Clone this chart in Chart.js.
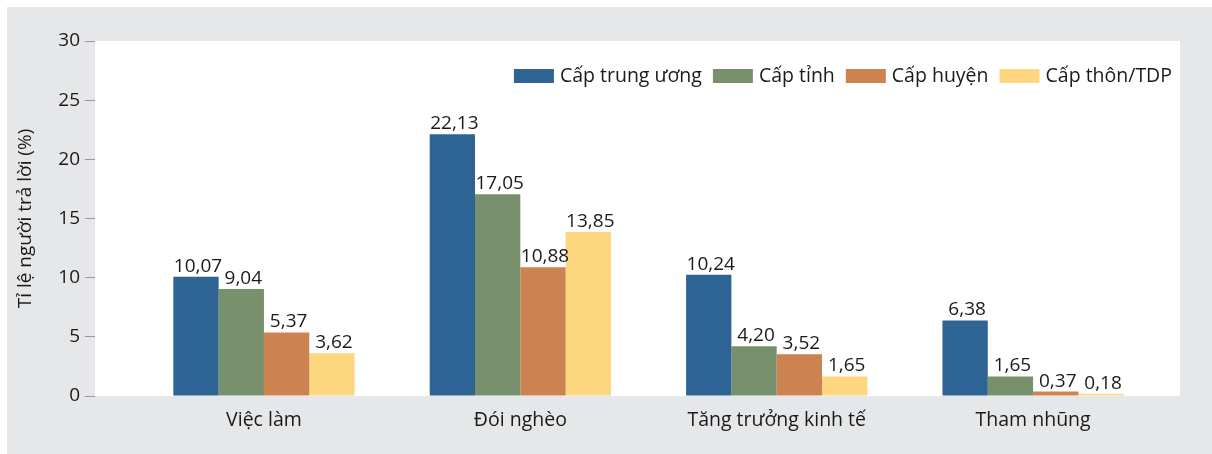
<!DOCTYPE html>
<html>
<head>
<meta charset="utf-8">
<script src="https://cdn.jsdelivr.net/npm/chart.js@4"></script>
<style>
  html, body { margin: 0; padding: 0; background: #fff; }
  #wrap { width: 1212px; height: 454px; }
</style>
</head>
<body>
<div id="wrap"><canvas id="myChart" width="1212" height="454"></canvas></div>
<script>
const categories = ['Việc làm', 'Đói nghèo', 'Tăng trưởng kinh tế', 'Tham nhũng'];
const yTicks = [0, 5, 10, 15, 20, 25, 30];

const capTrungUong = [10.07, 22.13, 10.24, 6.38];
const capTinh = [9.04, 17.05, 4.20, 1.65];
const capHuyen = [5.37, 10.88, 3.52, 0.37];
const capThon = [3.62, 13.85, 1.65, 0.18];

const FONT = "'Open Sans', sans-serif";
const TEXT = '#1a1a1a';

const toPoints = (arr) => arr.map((v, i) => ({x: i, y: v}));

const ctx = document.getElementById('myChart').getContext('2d');

// grey frame + white plot area
const background = {
  id: 'background',
  beforeDraw(chart) {
    const {ctx, chartArea} = chart;
    ctx.save();
    ctx.fillStyle = '#e6e7e9';
    ctx.fillRect(7, 7, chart.width - 7, chart.height - 7);
    ctx.fillStyle = '#ffffff';
    ctx.fillRect(chartArea.left, chartArea.top, chartArea.right - chartArea.left, chartArea.bottom - chartArea.top);
    ctx.restore();
  }
};

// value labels above bars, decimal comma
const valueLabels = {
  id: 'valueLabels',
  afterDatasetsDraw(chart) {
    const {ctx} = chart;
    ctx.save();
    ctx.font = '19px ' + FONT;
    ctx.fillStyle = TEXT;
    ctx.textAlign = 'center';
    ctx.textBaseline = 'bottom';
    chart.data.datasets.forEach((ds, di) => {
      chart.getDatasetMeta(di).data.forEach((bar, i) => {
        const txt = ds.data[i].y.toFixed(2).replace('.', ',');
        ctx.fillText(txt, bar.x + 2, bar.y - 1);
      });
    });
    ctx.restore();
  }
};

// legend inside the plot, top right, one row
const insideLegend = {
  id: 'insideLegend',
  afterDraw(chart) {
    const {ctx, chartArea} = chart;
    const boxW = 40, boxH = 14, gap = 6, itemGap = 11;
    ctx.save();
    ctx.font = '19.5px ' + FONT;
    const items = chart.data.datasets.map(ds => ({
      label: ds.label, color: ds.backgroundColor, w: ctx.measureText(ds.label).width
    }));
    const total = items.reduce((s, it) => s + boxW + gap + it.w, 0) + itemGap * (items.length - 1);
    let x = chartArea.right - 8 - total;
    const cy = chartArea.top + 35;
    ctx.textBaseline = 'middle';
    ctx.textAlign = 'left';
    items.forEach(it => {
      ctx.fillStyle = it.color;
      ctx.fillRect(x, cy - boxH / 2, boxW, boxH);
      ctx.fillStyle = TEXT;
      ctx.fillText(it.label, x + boxW + gap, cy);
      x += boxW + gap + it.w + itemGap;
    });
    ctx.restore();
  }
};

new Chart(ctx, {
  type: 'bar',
  data: {
    datasets: [
      {label: 'Cấp trung ương', data: toPoints(capTrungUong), backgroundColor: '#2e6494'},
      {label: 'Cấp tỉnh', data: toPoints(capTinh), backgroundColor: '#78906b'},
      {label: 'Cấp huyện', data: toPoints(capHuyen), backgroundColor: '#cd834f'},
      {label: 'Cấp thôn/TDP', data: toPoints(capThon), backgroundColor: '#fdd680'},
    ]
  },
  options: {
    responsive: false,
    animation: false,
    categoryPercentage: 0.707,
    barPercentage: 1,
    layout: {padding: {top: 41, right: 32, left: 0, bottom: 0}},
    plugins: {
      tooltip: {enabled: false},
      legend: {display: false}
    },
    scales: {
      x: {
        type: 'linear',
        offset: false,
        bounds: 'data',
        min: -0.659,
        max: 3.573,
        afterBuildTicks: (scale) => { scale.ticks = categories.map((c, i) => ({value: i})); },
        afterFit: (scale) => { scale.height = 58; },
        grid: {display: false},
        border: {display: false},
        ticks: {
          padding: 5,
          color: TEXT,
          font: {family: FONT, size: 19.5},
          callback: (v) => categories[v]
        }
      },
      y: {
        min: 0,
        max: 30,
        afterBuildTicks: (scale) => { scale.ticks = yTicks.map(v => ({value: v})); },
        afterFit: (scale) => { scale.width = 95; },
        grid: {drawOnChartArea: false, drawTicks: true, tickLength: 10, color: '#9a9a9a'},
        border: {display: false},
        ticks: {
          padding: 5,
          color: TEXT,
          font: {family: FONT, size: 19}
        },
        title: {
          display: true,
          text: 'Tỉ lệ người trả lời (%)',
          color: TEXT,
          font: {family: FONT, size: 19},
          padding: {top: 14, bottom: 0}
        }
      }
    }
  },
  plugins: [background, valueLabels, insideLegend]
});
</script>
</body>
</html>
